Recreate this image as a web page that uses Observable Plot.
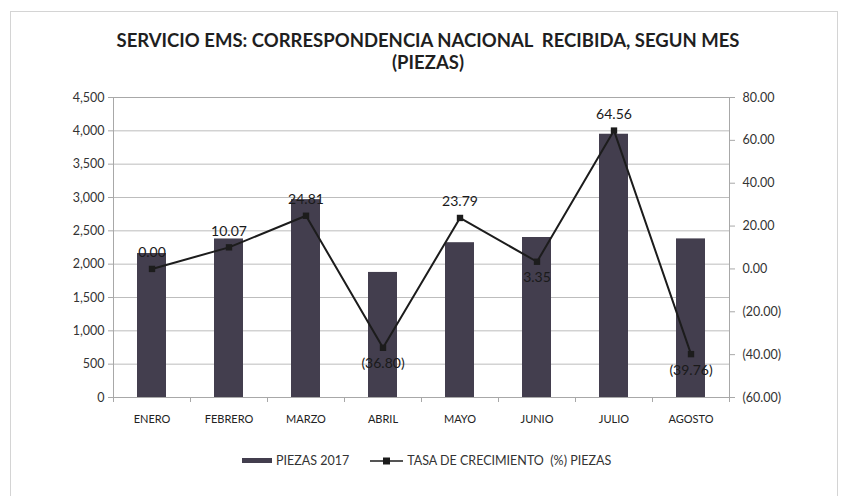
<!DOCTYPE html>
<html><head><meta charset="utf-8">
<script src="https://cdn.jsdelivr.net/npm/d3@7"></script>
<script src="https://cdn.jsdelivr.net/npm/@observablehq/plot@0.6"></script>
<style>
body{margin:0;background:#fff;font-family:Lato,"Open Sans",sans-serif;}
#wrap{position:relative;width:844px;height:496px;overflow:hidden;background:#fff;}
#border{position:absolute;left:10px;top:11px;width:826px;height:520px;border:1.5px solid #d4d4d4;}
#title{position:absolute;left:6px;width:844px;top:29px;text-align:center;font-weight:bold;font-size:18.5px;line-height:22px;color:#1f1f1f;}
#chart{position:absolute;left:0;top:80px;}
#legend{position:absolute;top:452px;left:242px;font-size:12.5px;color:#333;white-space:nowrap;}
#legend span{display:inline-block;vertical-align:middle;}
</style></head>
<body><div id="wrap">
<div id="border"></div>
<div id="title">SERVICIO EMS: CORRESPONDENCIA NACIONAL &nbsp;RECIBIDA, SEGUN MES<br>(PIEZAS)</div>
<div id="chart"></div>
<div id="legend"></div>
</div>
<script>
const months = ["ENERO","FEBRERO","MARZO","ABRIL","MAYO","JUNIO","JULIO","AGOSTO"];
const piezas = [2160, 2378, 2968, 1876, 2322, 2400, 3949, 2379];
const tasa = [0.00, 10.07, 24.81, -36.80, 23.79, 3.35, 64.56, -39.76];
const leftTicks = [0,500,1000,1500,2000,2500,3000,3500,4000,4500];
const rightTicks = [-60,-40,-20,0,20,40,60,80];
const labelBelow = [false,false,false,true,false,true,false,true];
const seriesNames = ["PIEZAS 2017","TASA DE CRECIMIENTO  (%) PIEZAS"];

const data = months.map((m,i)=>({mes:m, piezas:piezas[i], tasa:tasa[i], below:labelBelow[i]}));
const yMax = 4500, pMin = -60, pMax = 80;
const toY = p => (p - pMin)/(pMax - pMin)*yMax;
const fromY = v => Math.round(v*(pMax - pMin)/yMax + pMin);
const fmtPct = p => p < 0 ? `(${Math.abs(p).toFixed(2)})` : p.toFixed(2);
const barColor = "#433e4e", lineColor = "#1c1c1c";

const chart = Plot.plot({
  width: 844, height: 360,
  marginTop: 17, marginBottom: 43, marginLeft: 113, marginRight: 115,
  style: {fontFamily: "Lato, sans-serif", fontSize: "12.5px", color: "#333", background: "transparent"},
  x: {domain: months, paddingInner: 0.62, paddingOuter: 0.31},
  y: {domain: [0, yMax]},
  marks: [
    Plot.gridY(leftTicks, {stroke: "#bdbdbd", strokeOpacity: 1}),
    Plot.frame({stroke: "#a8a8a8"}),
    Plot.barY(data, {x: "mes", y: "piezas", fill: barColor}),
    Plot.line(data, {x: "mes", y: d => toY(d.tasa), stroke: lineColor, strokeWidth: 2}),
    Plot.dot(data, {x: "mes", y: d => toY(d.tasa), symbol: "square", r: 3.6, fill: lineColor}),
    Plot.text(data.filter(d => !d.below), {x: "mes", y: d => toY(d.tasa), text: d => fmtPct(d.tasa), dy: -16, fontSize: 14, fill: "#1a1a1a"}),
    Plot.text(data.filter(d => d.below), {x: "mes", y: d => toY(d.tasa), text: d => fmtPct(d.tasa), dy: 16, fontSize: 14, fill: "#1a1a1a"}),
    Plot.axisY(leftTicks, {anchor: "left", tickFormat: d3.format(","), tickSize: 5, tickPadding: 4, label: null, stroke: "#a8a8a8", fill: "#333"}),
    Plot.axisY(rightTicks.map(toY), {anchor: "right", tickFormat: v => fmtPct(fromY(v)), tickSize: 5, tickPadding: 8, label: null, stroke: "#a8a8a8", fill: "#333"}),
    Plot.axisX({tickSize: 0, tickPadding: 18, label: null, fontSize: 11, fill: "#222"}),
    Plot.axisX({tickSize: 5, dx: 38.5, tickFormat: () => "", label: null, stroke: "#a8a8a8"}),
    Plot.axisX([months[0]], {tickSize: 5, dx: -38.5, tickFormat: () => "", label: null, stroke: "#a8a8a8"})
  ]
});
document.getElementById("chart").appendChild(chart);

const lg = document.getElementById("legend");
lg.innerHTML =
  `<span style="width:30px;height:5px;background:${barColor};margin-right:4px"></span>` +
  `<span>${seriesNames[0]}</span>` +
  `<span style="width:21px"></span>` +
  `<svg width="33" height="10" style="vertical-align:middle;margin-right:4px"><line x1="0" y1="5" x2="33" y2="5" stroke="${lineColor}" stroke-width="1.5"/><rect x="13" y="1.5" width="7" height="7" fill="${lineColor}"/></svg>` +
  `<span style="white-space:pre">${seriesNames[1]}</span>`;
</script>
</body></html>
